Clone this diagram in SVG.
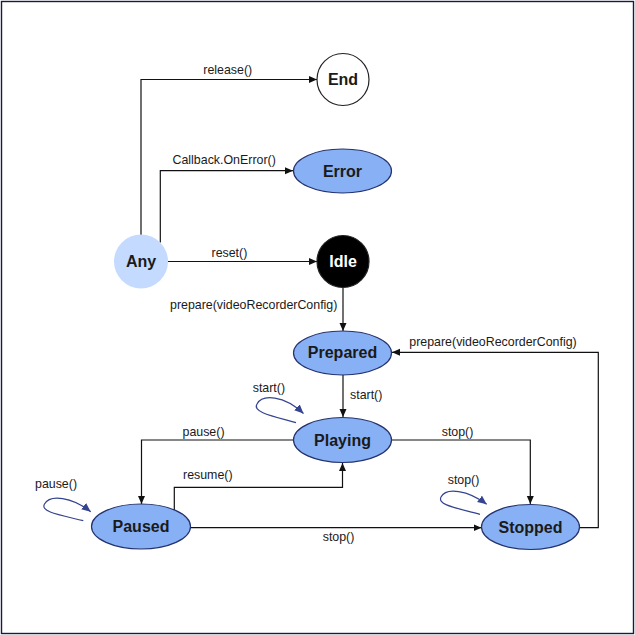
<svg xmlns="http://www.w3.org/2000/svg" width="635" height="635" viewBox="0 0 635 635">
<style>
.lbl{font-family:"Liberation Sans",Arial,sans-serif;font-size:12.4px;fill:#1a1a1a}
.nl{font-family:"Liberation Sans",Arial,sans-serif;font-size:16px;font-weight:bold;fill:#1a1a1a;text-anchor:middle}
.st{fill:#88b0f4;stroke:#24326e;stroke-width:1.2}
.ln{fill:none;stroke:#111;stroke-width:1.2}
.lp{fill:none;stroke:#34448e;stroke-width:1.2}
</style>
<defs>
<marker id="ah" markerUnits="userSpaceOnUse" markerWidth="9" markerHeight="8" refX="8" refY="3.5" orient="auto"><path d="M0,0 L8,3.5 L0,7 z" fill="#111"/></marker>
<marker id="bh" markerUnits="userSpaceOnUse" markerWidth="10" markerHeight="9" refX="9" refY="4" orient="auto"><path d="M0,0 L9,4 L0,8 z" fill="#34448e"/></marker>
</defs>
<rect x="0" y="0" width="635" height="635" fill="#fff"/>
<rect x="1.5" y="1.5" width="632" height="632" fill="none" stroke="#1a1a40" stroke-width="1.4"/>
<g id="connectors">
<path class="ln" d="M141,235 V79.5 H317" marker-end="url(#ah)"/>
<path class="ln" d="M160.3,242.5 V170.7 H293" marker-end="url(#ah)"/>
<path class="ln" d="M168,261.5 H317" marker-end="url(#ah)"/>
<path class="ln" d="M343,288 V331" marker-end="url(#ah)"/>
<path class="ln" d="M343,375 V417" marker-end="url(#ah)"/>
<path class="ln" d="M293.5,440 H141.5 V504" marker-end="url(#ah)"/>
<path class="ln" d="M174.3,510 V487.3 H342.5 V463" marker-end="url(#ah)"/>
<path class="ln" d="M391.5,440 H530.3 V504" marker-end="url(#ah)"/>
<path class="ln" d="M190.7,527.7 H481.5" marker-end="url(#ah)"/>
<path class="ln" d="M579.3,527.7 H598.3 V352.3 H392" marker-end="url(#ah)"/>
<path class="lp" d="M296,422.7 C272,416 252,412 257,404 C262,394 284,395 303.5,413.5" marker-end="url(#bh)"/>
<path class="lp" d="M83.3,520.7 C60,515 40,512 44.5,504 C50,494 72,497 90.7,511.7" marker-end="url(#bh)"/>
<path class="lp" d="M480,514.3 C457,508 437,505 441,497 C446,487 468,490 486.7,504.3" marker-end="url(#bh)"/>
<text class="lbl" x="203.3" y="74">release()</text>
<text class="lbl" x="172.5" y="164">Callback.OnError()</text>
<text class="lbl" x="211.5" y="257">reset()</text>
<text class="lbl" x="170" y="309">prepare(videoRecorderConfig)</text>
<text class="lbl" x="350" y="399">start()</text>
<text class="lbl" x="252.7" y="392">start()</text>
<text class="lbl" x="182.5" y="436">pause()</text>
<text class="lbl" x="441.7" y="436">stop()</text>
<text class="lbl" x="409.3" y="346">prepare(videoRecorderConfig)</text>
<text class="lbl" x="183" y="479">resume()</text>
<text class="lbl" x="35" y="488">pause()</text>
<text class="lbl" x="447.7" y="484">stop()</text>
<text class="lbl" x="322.7" y="541">stop()</text>
</g>
<g id="node-end"><circle cx="343" cy="79.5" r="26" fill="#fff" stroke="#222" stroke-width="1.2"/><text class="nl" x="343" y="85">End</text></g>
<g id="node-error"><ellipse class="st" cx="342.5" cy="171" rx="49" ry="22"/><text class="nl" x="342.5" y="176.5">Error</text></g>
<g id="node-any"><circle cx="141" cy="261.5" r="27" fill="#c4daff"/><text class="nl" x="141" y="267">Any</text></g>
<g id="node-idle"><circle cx="343" cy="261.5" r="26" fill="#000" stroke="#222" stroke-width="1.2"/><text class="nl" x="343" y="267" style="fill:#fff">Idle</text></g>
<g id="node-prepared"><ellipse class="st" cx="342.5" cy="353" rx="49" ry="22"/><text class="nl" x="342.5" y="358">Prepared</text></g>
<g id="node-playing"><ellipse class="st" cx="342.5" cy="440" rx="49" ry="22.5"/><text class="nl" x="342.5" y="445.5">Playing</text></g>
<g id="node-paused"><ellipse class="st" cx="141" cy="526.5" rx="49.5" ry="22.5"/><text class="nl" x="141" y="532">Paused</text></g>
<g id="node-stopped"><ellipse class="st" cx="530.5" cy="527" rx="49" ry="22.5"/><text class="nl" x="530.5" y="532.5">Stopped</text></g>
</svg>
